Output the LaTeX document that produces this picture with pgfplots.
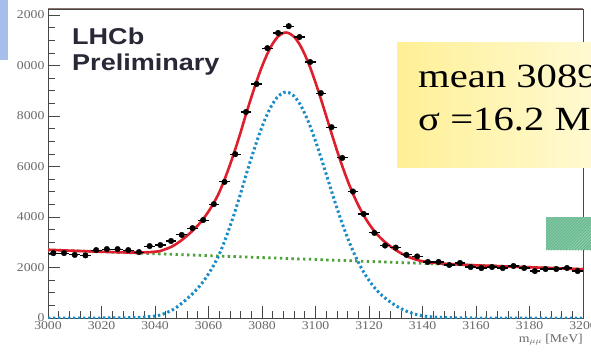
\documentclass[border=0pt]{standalone}
\usepackage{fontspec}
\setmainfont{Liberation Serif}
\newfontfamily\lsans{Liberation Sans}
\usepackage{graphicx}
\usepackage{pgfplots}
\pgfplotsset{compat=1.18}
\usetikzlibrary{patterns}
\definecolor{fitred}{RGB}{222,30,45}
\definecolor{sigblue}{RGB}{25,140,200}
\definecolor{bkggreen}{RGB}{80,160,60}
\definecolor{axgray}{RGB}{70,70,70}
\definecolor{topgray}{RGB}{140,115,110}
\definecolor{lblgray}{RGB}{105,105,105}
\definecolor{lhcbcol}{RGB}{40,40,55}
\definecolor{yelA}{RGB}{255,240,150}
\definecolor{yelB}{RGB}{255,250,215}
\definecolor{hgreen}{RGB}{105,185,145}
\definecolor{hgreenL}{RGB}{160,215,185}
\definecolor{stripblue}{RGB}{165,190,235}

\pgfplotstableread{
x y ex ey
3002 2570 2 51
3006 2570 2 51
3010 2500 2 50
3014 2480 2 50
3018 2690 2 52
3022 2730 2 52
3026 2730 2 52
3030 2690 2 52
3034 2610 2 51
3038 2850 2 53
3042 2890 2 54
3046 3050 2 55
3050 3290 2 57
3054 3560 2 60
3058 3880 2 62
3062 4510 2 67
3066 5390 2 73
3070 6490 2 81
3074 8160 2 90
3078 9270 2 96
3082 10690 2 103
3086 11290 2 106
3090 11560 2 108
3094 11130 2 105
3098 10140 2 101
3102 8910 2 94
3106 7560 2 87
3110 6340 2 80
3114 5010 2 71
3118 4120 2 64
3122 3370 2 58
3126 2870 2 54
3130 2790 2 53
3134 2500 2 50
3138 2440 2 49
3142 2220 2 47
3146 2220 2 47
3150 2100 2 46
3154 2180 2 47
3158 2020 2 45
3162 1980 2 44
3166 2020 2 45
3170 1980 2 44
3174 2060 2 45
3178 1980 2 44
3182 1860 2 43
3186 1940 2 44
3190 1940 2 44
3194 1980 2 44
3198 1860 2 43
}\datatable

\pgfplotstableread{
x y
3000 0
3020 0
3030 10
3034 25
3038 55
3040 80
3042 115
3044 200
3046 290
3048 420
3050 580
3052 760
3054 960
3056 1180
3058 1440
3060 1750
3062 2100
3064 2520
3066 3040
3068 3620
3070 4250
3072 4930
3074 5650
3076 6330
3078 6980
3080 7570
3082 8080
3084 8490
3086 8780
3088 8930
3089 8950
3090 8930
3092 8790
3094 8510
3096 8100
3098 7600
3100 7010
3102 6370
3104 5700
3106 5020
3108 4360
3110 3740
3112 3170
3114 2660
3116 2210
3118 1820
3120 1490
3122 1210
3124 980
3126 790
3128 630
3130 490
3132 370
3134 270
3136 190
3138 130
3140 85
3144 40
3150 12
3160 0
3200 0
}\sigtable

\pgfplotstableread{
x y
3000 2700
3010 2662
3020 2623
3030 2595
3034 2595
3038 2609
3040 2627
3042 2654
3044 2731
3046 2814
3048 2936
3050 3088
3052 3261
3054 3453
3056 3666
3058 3918
3060 4220
3062 4563
3064 4975
3066 5487
3068 6060
3070 6682
3072 7354
3074 8067
3076 8739
3078 9381
3080 9964
3082 10466
3084 10868
3086 11151
3088 11293
3089 11309
3090 11285
3092 11138
3094 10850
3096 10432
3098 9925
3100 9327
3102 8679
3104 8002
3106 7314
3108 6646
3110 6019
3112 5441
3114 4924
3116 4466
3118 4068
3120 3730
3122 3443
3124 3205
3126 3007
3128 2840
3130 2692
3132 2564
3134 2457
3136 2369
3138 2301
3140 2249
3144 2188
3150 2138
3160 2087
3170 2049
3180 2011
3190 1972
3200 1934
}\totaltable

\begin{document}
\begin{tikzpicture}[x=1bp,y=1bp]
\path[use as bounding box] (0,0) rectangle (591,351);
\fill[white] (0,0) rectangle (591,351);
\begin{axis}[
  at={(48bp,33bp)}, anchor=south west,
  scale only axis, width=535bp, height=309bp,
  xmin=3000, xmax=3200, ymin=0, ymax=12240,
  xtick={3000,3020,...,3200}, minor x tick num=4,
  ytick={0,2000,...,12000}, minor y tick num=3,
  scaled x ticks=false, scaled y ticks=false,
  tick pos=left, tick align=inside,
  major tick length=12bp, minor tick length=7bp,
  axis line style={axgray, line width=0.9bp},
  tick style={axgray, line width=0.8bp},
  /pgf/number format/assume math mode=true,
  /pgf/number format/1000 sep={},
  tick label style={font=\fontsize{12}{12}\selectfont, text=lblgray},
  xticklabel={\scalebox{1.15}[1]{\pgfmathprintnumber{\tick}}},
  yticklabel={\scalebox{1.15}[1]{\pgfmathprintnumber{\tick}}},
  clip=true,
]
\addplot[bkggreen, line width=2.8bp, dash pattern=on 2.4bp off 3.4bp] coordinates {(3000,2700) (3200,1934)};
\addplot[sigblue, line width=3bp, dash pattern=on 2.4bp off 2.6bp, smooth] table[x=x,y=y] {\sigtable};
\addplot[fitred, line width=2.6bp, smooth] table[x=x,y=y] {\totaltable};
\addplot[black, only marks, mark=*, mark size=2.8bp,
  error bars/.cd, x dir=both, x explicit, y dir=both, y explicit,
  error bar style={black, line width=1.1bp}, error mark=none]
  table[x=x, y=y, x error=ex, y error=ey] {\datatable};
\end{axis}
\begin{scope}
\clip (0,0) rectangle (591,351);
\draw[topgray, line width=1bp] (48,342) -- (583,342);
% left margin cover and blue strip
\fill[white] (0,36) rectangle (15.5,351);
\fill[stripblue] (0,291) rectangle (8,351);
% LHCb label
\node[anchor=base west, inner sep=0, text=lhcbcol] at (72,307) {\scalebox{1.18}[1]{\lsans\bfseries\fontsize{23}{23}\selectfont LHCb}};
\node[anchor=base west, inner sep=0, text=lhcbcol] at (72,281) {\scalebox{1.18}[1]{\lsans\bfseries\fontsize{23}{23}\selectfont Preliminary}};
% yellow box
\shade[left color=yelA, right color=yelB] (397,184) rectangle (610,309);
\node[anchor=base west, inner sep=0, text=black] at (418,264) {\scalebox{1.2}[1]{\fontsize{34}{34}\selectfont mean 3089}};
\node[anchor=base west, inner sep=0, text=black] at (418,221) {\scalebox{1.2}[1]{\fontsize{34}{34}\selectfont σ =16.2 MeV}};
% green hatched box
\fill[hgreen] (546,101) rectangle (610,134);
\fill[pattern=north east lines, pattern color=hgreenL] (546,101) rectangle (610,134);
% x axis label
\node[anchor=base east, inner sep=0, text=lblgray] at (583,9) {\scalebox{1.15}[1]{\fontsize{12}{12}\selectfont m$_{\mu\mu}$ [MeV]}};
\end{scope}
\end{tikzpicture}
\end{document}
